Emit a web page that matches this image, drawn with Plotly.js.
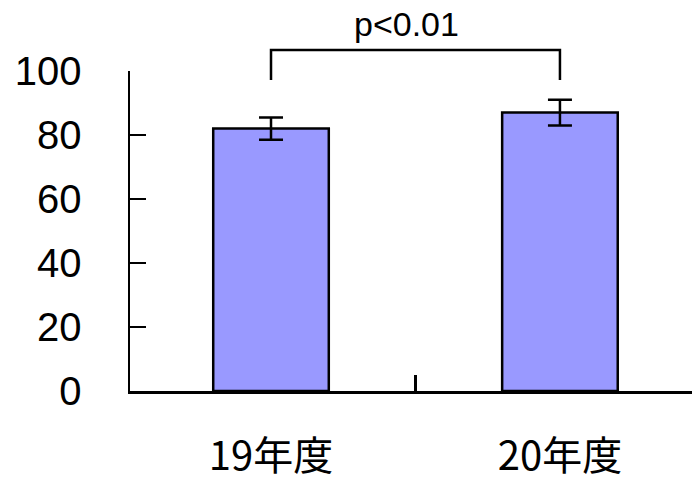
<!DOCTYPE html>
<html>
<head>
<meta charset="utf-8">
<script src="https://cdn.plot.ly/plotly-3.0.1.min.js"></script>
<style>html,body{margin:0;padding:0;background:#fff;}#chart{width:692px;height:482px;}</style>
</head>
<body>
<div id="chart"></div>
<script>
// Data
const categories = ["19年度", "20年度"];
const values = [82, 87];
const errors = [3.5, 4];
const bracketX = [0, 0, 1, 1];
const bracketY = [97.2, 106.6, 106.6, 97.2];
const pLabel = "p<0.01";
const yTicks = [0, 20, 40, 60, 80, 100];

const xPos = categories.map((c, i) => i);

// geometry: plot area height 391 px, value axis 0..100 spans 320 px
const plotH = 391, axisH = 320;
const yMax = 100;
const y2Max = yMax * plotH / axisH;

const traces = [
  {
    type: 'bar',
    x: xPos,
    y: values,
    width: 0.4,
    marker: {color: '#9999FF', line: {color: '#000', width: 2.5}},
    error_y: {type: 'data', array: errors, visible: true, color: '#000', thickness: 2.5, width: 12},
    hoverinfo: 'none'
  },
  {
    type: 'scatter',
    mode: 'lines',
    x: bracketX,
    y: bracketY,
    yaxis: 'y2',
    line: {color: '#000', width: 2.5},
    hoverinfo: 'none'
  }
];

const layout = {
  width: 692,
  height: 482,
  margin: {l: 130, r: 0, t: 0, b: 91},
  paper_bgcolor: '#fff',
  plot_bgcolor: 'rgba(0,0,0,0)',
  showlegend: false,
  xaxis: {
    range: [-0.488, 1.457],
    tickvals: xPos,
    ticktext: categories,
    ticks: '',
    showline: true,
    linecolor: '#000',
    linewidth: 2.5,
    showgrid: false,
    zeroline: false,
    ticklabelstandoff: 28,
    tickfont: {family: 'Noto Sans CJK JP', size: 40, color: '#000'},
    minor: {tickvals: [0.5], ticks: 'inside', ticklen: 16, tickwidth: 2.5, tickcolor: '#000', showgrid: false}
  },
  yaxis: {
    domain: [0, axisH / plotH],
    range: [0, yMax],
    tickvals: yTicks,
    ticks: 'inside',
    ticklen: 16,
    tickwidth: 2.5,
    tickcolor: '#000',
    showline: true,
    linecolor: '#000',
    linewidth: 2.5,
    showgrid: false,
    zeroline: false,
    ticklabelstandoff: 38,
    tickfont: {family: 'Liberation Sans, Arial, sans-serif', size: 40, color: '#000'}
  },
  yaxis2: {
    domain: [0, 1],
    range: [0, y2Max],
    anchor: 'x',
    visible: false,
    showgrid: false,
    zeroline: false
  },
  annotations: [{
    x: 0.5, y: bracketY[1], xref: 'x', yref: 'y2',
    text: pLabel, showarrow: false,
    yanchor: 'bottom', yshift: 5, xshift: -9,
    font: {family: 'Liberation Sans, Arial, sans-serif', size: 34, color: '#000'}
  }]
};

Plotly.newPlot('chart', traces, layout, {displayModeBar: false, staticPlot: true});
</script>
</body>
</html>
